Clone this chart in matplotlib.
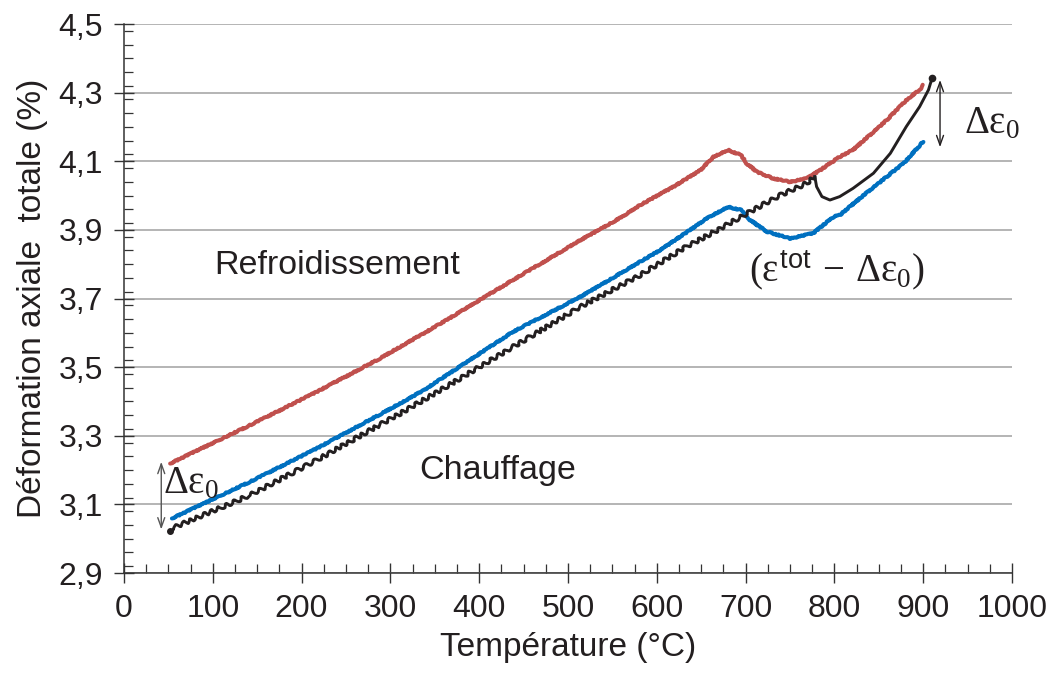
import matplotlib
matplotlib.use("Agg")
import matplotlib.pyplot as plt
from matplotlib.ticker import MultipleLocator

# Données
red_T = [52, 142, 217, 288, 311, 363, 438, 514, 559, 581, 619, 649, 664, 680, 695, 701, 713, 731, 750, 769, 784,
         806, 821, 859, 881, 896, 900]
red_y = [3.219, 3.331, 3.428, 3.525, 3.559, 3.637, 3.754, 3.870, 3.935, 3.972, 4.026, 4.074, 4.113, 4.133, 4.118,
         4.094, 4.069, 4.050, 4.040, 4.050, 4.074, 4.113, 4.133, 4.220, 4.278, 4.308, 4.322]

blue_T = [54, 142, 217, 311, 337, 438, 514, 559, 581, 604, 637, 656, 680, 695, 705, 724, 750, 776, 799, 806, 840,
          878, 900]
blue_y = [3.059, 3.166, 3.263, 3.394, 3.432, 3.603, 3.705, 3.773, 3.807, 3.841, 3.899, 3.933, 3.967, 3.958, 3.929,
          3.895, 3.875, 3.890, 3.938, 3.943, 4.016, 4.094, 4.157]

black_T = [52, 54, 142, 217, 311, 363, 438, 514, 581, 630, 675, 705, 739, 769, 778, 780, 786, 795, 806, 821, 844,
           863, 881, 896, 906, 910]
black_y = [3.022, 3.030, 3.127, 3.229, 3.365, 3.443, 3.559, 3.676, 3.768, 3.846, 3.909, 3.953, 4.001, 4.036, 4.055,
           4.026, 3.997, 3.987, 3.997, 4.021, 4.065, 4.123, 4.201, 4.259, 4.308, 4.342]

x_ticks = [0, 100, 200, 300, 400, 500, 600, 700, 800, 900, 1000]
y_ticks = [2.9, 3.1, 3.3, 3.5, 3.7, 3.9, 4.1, 4.3, 4.5]
y_tick_labels = ['2,9', '3,1', '3,3', '3,5', '3,7', '3,9', '4,1', '4,3', '4,5']

plt.rcParams['font.family'] = ['Liberation Sans', 'DejaVu Sans']
plt.rcParams['mathtext.fontset'] = 'custom'
plt.rcParams['mathtext.rm'] = 'Liberation Serif'
plt.rcParams['mathtext.it'] = 'Liberation Serif'
plt.rcParams['mathtext.sf'] = 'Liberation Sans'

txt = '#231f20'
fig = plt.figure(figsize=(10.55, 6.86), dpi=100)
ax = fig.add_axes([0.1175, 0.1647, 0.8417, 0.8003])

# Courbes
lr, = ax.plot(red_T, red_y, color='#c0504d', lw=2.9, solid_capstyle='round', zorder=3)
lb, = ax.plot(blue_T, blue_y, color='#0070c0', lw=2.9, solid_capstyle='round', zorder=3)
lr.set_sketch_params(scale=0.6, length=3, randomness=4)
lb.set_sketch_params(scale=0.6, length=3, randomness=4)
k = 15  # début de la chute du noir
l1, = ax.plot(black_T[:k], black_y[:k], color=txt, lw=2.1, zorder=4)
l1.set_sketch_params(scale=2.0, length=9, randomness=2)
ax.plot(black_T[k - 1:], black_y[k - 1:], color=txt, lw=2.1, zorder=4)
ax.plot(black_T[-1], black_y[-1], 'o', color=txt, ms=4.5, zorder=4)
ax.plot(black_T[0], black_y[0], 'o', color=txt, ms=4, zorder=4)

# Flèches Δε0
ax.annotate('', xy=(42, 3.224), xytext=(42, 3.027),
            arrowprops=dict(arrowstyle='<->,head_length=0.7,head_width=0.25', color='#555555', lw=1.0, shrinkA=0, shrinkB=0))
ax.annotate('', xy=(919, 4.337), xytext=(919, 4.141),
            arrowprops=dict(arrowstyle='<->,head_length=0.7,head_width=0.25', color=txt, lw=1.0, shrinkA=0, shrinkB=0))

# Textes
ax.text(102, 3.797, 'Refroidissement', fontsize=24.5, color=txt, ha='left', va='center')
ax.text(333, 3.200, 'Chauffage', fontsize=24.5, color=txt, ha='left', va='center')
ax.text(704, 3.783, r'$(\varepsilon^{\mathsf{tot}}\, -\, \Delta\varepsilon_0)$', fontsize=28, color=txt,
        ha='left', va='center')
ax.text(946, 4.211, r'$\Delta\varepsilon_0$', fontsize=28, color=txt, ha='left', va='center', clip_on=False)
ax.text(44, 3.162, r'$\Delta\varepsilon_0$', fontsize=28, color=txt, ha='left', va='center')

# Axes
ax.set_xlim(0, 1000)
ax.set_ylim(2.9, 4.5)
ax.set_xticks(x_ticks)
ax.set_xticklabels([str(v) for v in x_ticks])
ax.set_yticks(y_ticks)
ax.set_yticklabels(y_tick_labels)
ax.xaxis.set_minor_locator(MultipleLocator(25))
ax.yaxis.set_minor_locator(MultipleLocator(0.04))
ax.tick_params(which='major', direction='inout', length=14, width=1.0, color='#333333',
               labelsize=23, labelcolor=txt, pad=8)
ax.tick_params(which='minor', direction='in', length=6.5, width=0.9, color='#333333')
ax.grid(axis='y', which='major', color='#a0a0a0', lw=1.1)
ax.set_axisbelow(True)
for s in ['top', 'right']:
    ax.spines[s].set_visible(False)
for s in ['left', 'bottom']:
    ax.spines[s].set_color('#333333')
    ax.spines[s].set_linewidth(1.1)

ax.set_xlabel('Température (°C)', fontsize=24, color=txt, labelpad=6)
ax.set_ylabel('Déformation axiale  totale (%)', fontsize=24, color=txt, labelpad=8)

fig.savefig('out.png', dpi=100)
